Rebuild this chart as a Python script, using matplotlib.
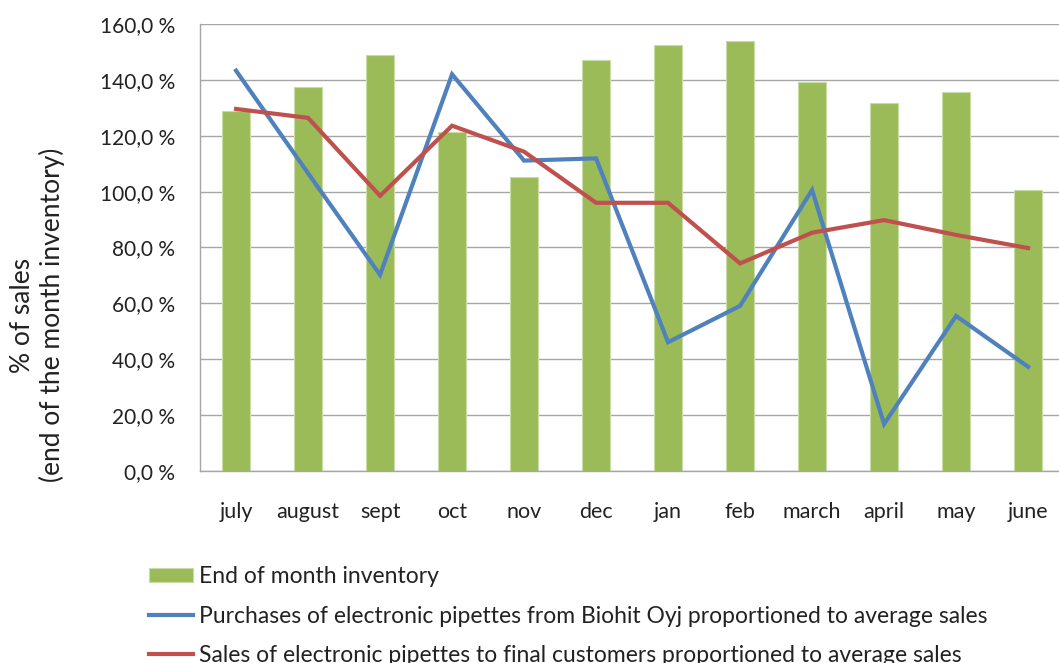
import matplotlib.pyplot as plt
import numpy as np

plt.rcParams['font.family'] = ['Lato', 'DejaVu Sans']

months = ['july', 'august', 'sept', 'oct', 'nov', 'dec',
          'jan', 'feb', 'march', 'april', 'may', 'june']
inventory = [129.0, 137.4, 148.9, 121.3, 105.1, 147.2,
             152.5, 154.0, 139.3, 131.6, 135.8, 100.5]
purchases = [143.3, 106.6, 70.2, 142.0, 111.1, 111.9,
             46.1, 59.1, 100.6, 16.8, 55.5, 37.3]
sales = [129.6, 126.4, 98.5, 123.6, 114.3, 96.0,
         96.0, 74.3, 85.3, 89.8, 84.5, 79.8]
yticks = [0, 20, 40, 60, 80, 100, 120, 140, 160]

fig = plt.figure(figsize=(10.59, 6.63), dpi=100)
ax = fig.add_axes([0.1889, 0.2896, 0.8159, 0.6742])

x = np.arange(len(months))
bars = ax.bar(x, inventory, width=0.40, color='#9BBB59', edgecolor='#c9dca6',
              linewidth=0.8, label='End of month inventory', zorder=2)
l1, = ax.plot(x, purchases, color='#4F81BD', lw=3.0, solid_joinstyle='miter',
              label='Purchases of electronic pipettes from Biohit Oyj proportioned to average sales',
              zorder=3)
l2, = ax.plot(x, sales, color='#C0504D', lw=3.0, solid_joinstyle='miter',
              label='Sales of electronic pipettes to final customers proportioned to average sales',
              zorder=4)

ax.set_xlim(-0.5, len(months) - 0.5)
ax.set_ylim(0, 160)
ax.set_yticks(yticks)
ax.set_yticklabels([f'{v:.1f}'.replace('.', ',') + ' %' for v in yticks])
ax.set_xticks(x)
ax.set_xticklabels(months)
ax.tick_params(axis='both', length=0, labelsize=15, colors='#222222')
ax.tick_params(axis='x', labelsize=15.5, pad=22)
ax.tick_params(axis='y', pad=18)
ax.grid(axis='y', color='#a6a6a6', lw=1.0, zorder=0)
ax.set_axisbelow(True)
for side in ['top', 'right']:
    ax.spines[side].set_visible(False)
for side in ['left', 'bottom']:
    ax.spines[side].set_color('#a6a6a6')
    ax.spines[side].set_linewidth(1.0)

ax.set_ylabel('% of sales\n(end of the month inventory)', fontsize=19,
              color='#222222', linespacing=1.2)
ax.yaxis.set_label_coords(-0.156, 0.349)

fig.legend(handles=[bars, l1, l2], loc='upper left',
           bbox_to_anchor=(0.1407, 0.146), frameon=False,
           fontsize=16.5, handlelength=1.9, handleheight=0.55,
           handletextpad=0.3, labelspacing=0.8, borderaxespad=0,
           borderpad=0, labelcolor='#222222')

fig.savefig('out.png', dpi=100)
